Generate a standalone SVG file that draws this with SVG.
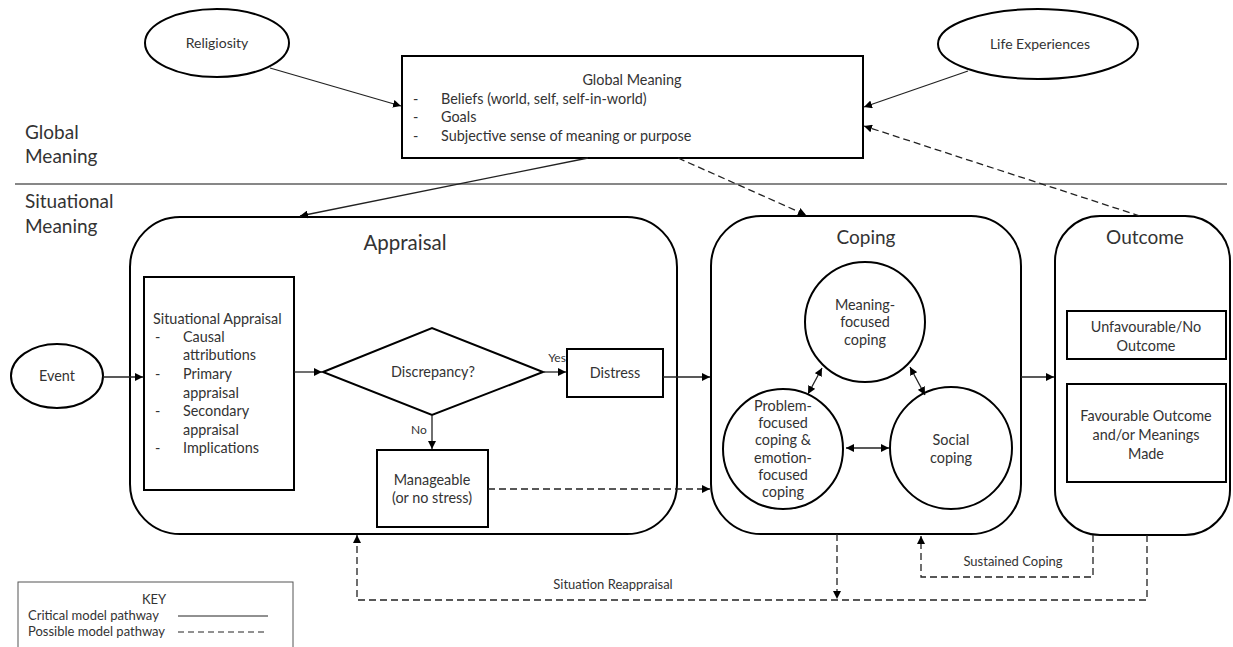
<svg xmlns="http://www.w3.org/2000/svg" width="1233" height="647" viewBox="0 0 1233 647">
<style>
text{font-family:Lato,"Liberation Sans",sans-serif;fill:#333;}
.box{fill:#fff;stroke:#000;stroke-width:2;}
.rr{fill:none;stroke:#000;stroke-width:2;}
.ell{fill:#fff;stroke:#000;stroke-width:2;}
.ln{fill:none;stroke:#222;stroke-width:1.3;}
.dl{fill:none;stroke:#222;stroke-width:1.3;stroke-dasharray:7,4;}
.s13{font-size:14.4px;}
.s12{font-size:14px;}
.s11{font-size:13px;}
.sm{font-size:12px;}
.big{font-size:19px;}
.side{font-size:19px;}
</style>
<defs>
<marker id="ah" viewBox="0 0 10 10" refX="10" refY="5" markerWidth="8" markerHeight="8" markerUnits="userSpaceOnUse" orient="auto-start-reverse">
<path d="M0,0 L10,5 L0,10 z" fill="#000"/>
</marker>
</defs>

<g id="section-labels">
<text class="side" x="25" y="139">Global</text>
<text class="side" x="25" y="163">Meaning</text>
<line x1="15" y1="184" x2="1227" y2="184" stroke="#111" stroke-width="1.2"/>
<text class="side" x="25" y="208">Situational</text>
<text class="side" x="25" y="233">Meaning</text>
</g>

<g id="religiosity">
<ellipse class="ell" cx="217" cy="43" rx="72" ry="34"/>
<text class="s12" x="217" y="48" text-anchor="middle">Religiosity</text>
</g>

<g id="life-experiences">
<ellipse class="ell" cx="1038" cy="44" rx="100" ry="35"/>
<text class="s12" x="1040" y="49" text-anchor="middle">Life Experiences</text>
</g>

<g id="global-meaning">
<rect class="box" x="402" y="56" width="461" height="102"/>
<text class="s13" x="632" y="85" text-anchor="middle">Global Meaning</text>
<text class="s13" x="413" y="104">-</text>
<text class="s13" x="441" y="104">Beliefs (world, self, self-in-world)</text>
<text class="s13" x="413" y="122">-</text>
<text class="s13" x="441" y="122">Goals</text>
<text class="s13" x="413" y="141">-</text>
<text class="s13" x="441" y="141">Subjective sense of meaning or purpose</text>
</g>

<g id="appraisal">
<rect class="rr" x="130" y="217" width="547" height="317" rx="50" ry="50"/>
<text class="big" x="405" y="250" text-anchor="middle" style="font-size:20.5px">Appraisal</text>
</g>

<g id="event">
<ellipse class="ell" cx="57" cy="376" rx="46" ry="32"/>
<text class="s13" x="57" y="381" text-anchor="middle">Event</text>
</g>

<g id="situational-appraisal">
<rect class="box" x="144" y="277" width="150" height="213"/>
<text class="s13" x="153" y="324">Situational Appraisal</text>
<text class="s13" x="155" y="342">-</text>
<text class="s13" x="183" y="342">Causal</text>
<text class="s13" x="183" y="360">attributions</text>
<text class="s13" x="155" y="379">-</text>
<text class="s13" x="183" y="379">Primary</text>
<text class="s13" x="183" y="398">appraisal</text>
<text class="s13" x="155" y="416">-</text>
<text class="s13" x="183" y="416">Secondary</text>
<text class="s13" x="183" y="435">appraisal</text>
<text class="s13" x="155" y="453">-</text>
<text class="s13" x="183" y="453">Implications</text>
</g>

<g id="discrepancy">
<polygon class="box" points="323,372 432,328 543,372 432,415"/>
<text class="s13" x="433" y="377" text-anchor="middle">Discrepancy?</text>
</g>

<g id="distress">
<rect class="box" x="567" y="349" width="96" height="48"/>
<text class="s13" x="615" y="378" text-anchor="middle">Distress</text>
</g>

<g id="manageable">
<rect class="box" x="377" y="450" width="111" height="77"/>
<text class="s13" x="432" y="485" text-anchor="middle">Manageable</text>
<text class="s13" x="432" y="503" text-anchor="middle">(or no stress)</text>
</g>

<g id="coping">
<rect class="rr" x="711" y="216" width="310" height="318" rx="50" ry="50"/>
<text class="big" x="866" y="244" text-anchor="middle">Coping</text>
</g>

<g id="meaning-focused">
<circle class="box" cx="865" cy="322" r="60"/>
<text class="s13" x="865" y="310" text-anchor="middle">Meaning-</text>
<text class="s13" x="865" y="327" text-anchor="middle">focused</text>
<text class="s13" x="865" y="345" text-anchor="middle">coping</text>
</g>

<g id="problem-focused">
<circle class="box" cx="783" cy="449" r="60"/>
<text class="s13" x="783" y="411" text-anchor="middle">Problem-</text>
<text class="s13" x="783" y="428" text-anchor="middle">focused</text>
<text class="s13" x="783" y="445" text-anchor="middle">coping &amp;</text>
<text class="s13" x="783" y="463" text-anchor="middle">emotion-</text>
<text class="s13" x="783" y="480" text-anchor="middle">focused</text>
<text class="s13" x="783" y="497" text-anchor="middle">coping</text>
</g>

<g id="social-coping">
<circle class="box" cx="951" cy="448" r="61"/>
<text class="s13" x="951" y="445" text-anchor="middle">Social</text>
<text class="s13" x="951" y="463" text-anchor="middle">coping</text>
</g>

<g id="outcome">
<rect class="rr" x="1055" y="216" width="175" height="319" rx="45" ry="45"/>
<text class="big" x="1145" y="244" text-anchor="middle">Outcome</text>
</g>

<g id="unfavourable">
<rect class="box" x="1067" y="311" width="159" height="48"/>
<text class="s13" x="1146" y="332" text-anchor="middle">Unfavourable/No</text>
<text class="s13" x="1146" y="351" text-anchor="middle">Outcome</text>
</g>

<g id="favourable">
<rect class="box" x="1067" y="384" width="159" height="98"/>
<text class="s13" x="1146" y="421" text-anchor="middle">Favourable Outcome</text>
<text class="s13" x="1146" y="440" text-anchor="middle">and/or Meanings</text>
<text class="s13" x="1146" y="459" text-anchor="middle">Made</text>
</g>

<g id="key">
<rect x="18" y="582" width="275" height="80" fill="#fff" stroke="#555" stroke-width="1"/>
<text class="s11" x="154" y="604" text-anchor="middle">KEY</text>
<text class="s11" x="28" y="620">Critical model pathway</text>
<line x1="178" y1="616" x2="268" y2="616" stroke="#222" stroke-width="1"/>
<text class="s11" x="28" y="636">Possible model pathway</text>
<line x1="178" y1="632" x2="268" y2="632" stroke="#222" stroke-width="1" stroke-dasharray="6,4"/>
</g>

<g id="connectors">
<line class="ln" x1="270" y1="68" x2="401" y2="106" marker-end="url(#ah)"/>
<line class="ln" x1="968" y1="71" x2="864" y2="107" marker-end="url(#ah)"/>
<line class="dl" x1="1140" y1="216" x2="864" y2="126" marker-end="url(#ah)"/>
<line class="ln" x1="588" y1="158" x2="300" y2="216" marker-end="url(#ah)"/>
<line class="dl" x1="678" y1="158" x2="806" y2="215" marker-end="url(#ah)"/>
<line class="ln" x1="103" y1="377" x2="143" y2="377" marker-end="url(#ah)"/>
<line class="ln" x1="294" y1="372" x2="322" y2="372" marker-end="url(#ah)"/>
<line class="ln" x1="543" y1="372" x2="566" y2="372" marker-end="url(#ah)"/>
<text class="sm" x="557" y="362" text-anchor="middle">Yes</text>
<line class="ln" x1="432" y1="415" x2="432" y2="449" marker-end="url(#ah)"/>
<text class="sm" x="419" y="434" text-anchor="middle">No</text>
<line class="dl" x1="488" y1="489" x2="710" y2="489" marker-end="url(#ah)"/>
<line class="ln" x1="663" y1="377" x2="710" y2="377" marker-end="url(#ah)"/>
<line class="ln" x1="1021" y1="377" x2="1054" y2="377" marker-end="url(#ah)"/>
<line class="ln" x1="808" y1="394" x2="822" y2="368" marker-start="url(#ah)" marker-end="url(#ah)"/>
<line class="ln" x1="910" y1="367" x2="925" y2="395" marker-start="url(#ah)" marker-end="url(#ah)"/>
<line class="ln" x1="846" y1="448" x2="889" y2="448" marker-start="url(#ah)" marker-end="url(#ah)"/>
<polyline class="dl" points="1147,535 1147,600 357,600 357,535" marker-end="url(#ah)"/>
<line class="dl" x1="837" y1="534" x2="837" y2="599" marker-end="url(#ah)"/>
<polyline class="dl" points="1093,535 1093,577 921,577 921,536" marker-end="url(#ah)"/>
<text class="s11" x="613" y="589" text-anchor="middle">Situation Reappraisal</text>
<text class="s11" x="1013" y="566" text-anchor="middle">Sustained Coping</text>
</g>
</svg>
